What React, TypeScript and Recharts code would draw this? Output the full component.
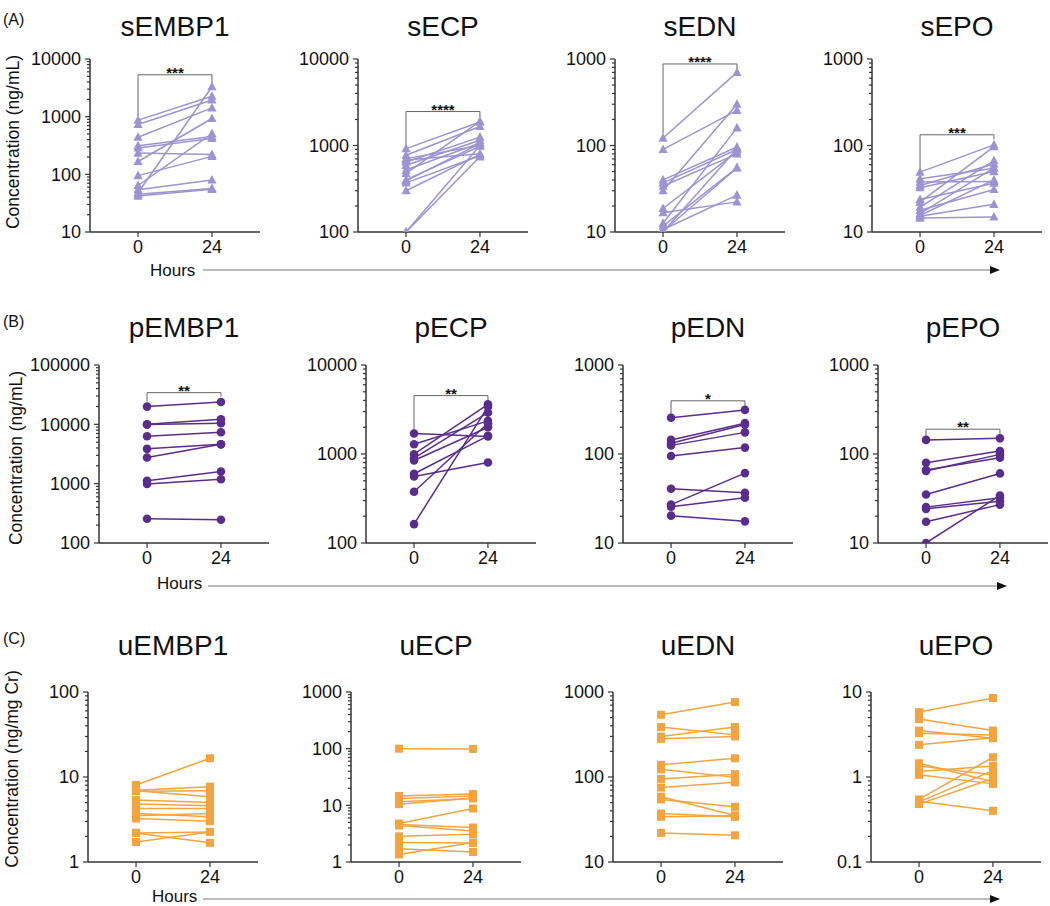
import React from "react"
import { LineChart, Line, XAxis, YAxis, ReferenceLine } from "recharts"

// paired samples, 0 h vs 24 h
const hours = [0, 24]

const sEMBP1_0 = [871, 731, 440, 314, 286, 234, 167, 95, 64, 54, 48, 45, 42]
const sEMBP1_24 = [2260, 1950, 1420, 455, 420, 220, 930, 205, 510, 80, 3300, 57, 55]
const sECP_0 = [920, 770, 705, 680, 645, 590, 520, 475, 400, 390, 370, 300, 100, 100]
const sECP_24 = [1870, 1660, 1000, 805, 1250, 1150, 1070, 1900, 980, 1050, 760, 790, 1000, 740]
const sEDN_0 = [122, 90, 40, 37, 34, 30, 18.7, 16.7, 12.6, 11.7, 10.7, 10, 10.2]
const sEDN_24 = [700, 255, 96, 90, 80, 300, 85, 22.3, 160, 55.6, 26.7, 92, 55]
const sEPO_0 = [49.2, 41.2, 37.8, 34.5, 32.5, 23.8, 22.2, 19.4, 17.8, 16.3, 15.2, 14.5, 15.5]
const sEPO_24 = [101.8, 54.7, 38.4, 61, 50, 36.7, 97, 67, 31, 55, 20.9, 14.9, 40]

const pEMBP1_0 = [19900, 10040, 9900, 6300, 3860, 2760, 1120, 985, 257]
const pEMBP1_24 = [23850, 12200, 10450, 7370, 4630, 4600, 1600, 1190, 247]
const pECP_0 = [1698, 1288, 995, 897, 845, 600, 560, 377, 163]
const pECP_24 = [1572, 2355, 3620, 2920, 2000, 1600, 803, 2217, 3410]
const pEDN_0 = [255, 144, 132, 125, 95, 40.7, 27, 25.5, 20.3]
const pEDN_24 = [313, 222, 214, 175, 118, 36.6, 61, 32.2, 17.5]
const pEPO_0 = [144, 79.8, 64.3, 66, 35.1, 25.3, 24.2, 17.3, 10]
const pEPO_24 = [150, 108, 99, 91, 60.5, 32.2, 29.5, 27, 34.2]

const uEMBP1_0 = [8.05, 7.0, 6.9, 6.8, 5.35, 4.8, 4.26, 3.72, 3.49, 3.25, 2.2, 2.2, 1.72]
const uEMBP1_24 = [16.6, 7.69, 5.86, 6.9, 5.0, 4.6, 4.26, 3.4, 3.72, 3.02, 2.26, 1.68, 2.26]
const uECP_0 = [100, 14.6, 13.2, 11.6, 10.5, 4.77, 4.4, 4.6, 2.84, 2.2, 1.72, 1.36]
const uECP_24 = [99, 15.8, 14.6, 13.2, 13.5, 8.8, 3.54, 4.06, 3.09, 2.17, 1.5, 2.2]
const uEDN_0 = [540, 387, 300, 281, 139, 123, 95, 75, 58.6, 54.5, 37.2, 34, 22]
const uEDN_24 = [762, 313, 387, 300, 166, 99, 108, 86.5, 35.3, 44.6, 34, 35, 20.6]
const uEPO_0 = [5.8, 4.8, 3.52, 3.28, 2.39, 1.45, 1.35, 1.16, 1.06, 0.545, 0.51, 0.48, 0.52]
const uEPO_24 = [8.5, 3.52, 2.86, 3.13, 2.9, 0.88, 1.06, 1.35, 0.83, 1.71, 1.19, 0.96, 0.4]

// significance brackets: [top, left leg end, right leg end], label
const brackets: Record<string, [number, number, number, string]> = {
  sEMBP1: [5320, 1023, 3600, "***"],
  sECP: [2470, 1000, 1950, "****"],
  sEDN: [876, 137, 767, "****"],
  sEPO: [133, 53, 118, "***"],
  pEMBP1: [34200, 24150, 29300, "**"],
  pECP: [4530, 1866, 3980, "**"],
  pEDN: [396, 280, 348, "*"],
  pEPO: [190, 160, 165, "**"],
}

const LAVENDER = "#9d93d3"
const PURPLE = "#5a2c8e"
const ORANGE = "#f3a43f"
const AXIS = "#333"
const FONT = "'Liberation Sans', Arial, sans-serif"

type Marker = "triangle" | "circle" | "square"

interface Panel {
  title: string
  h0: number[]
  h24: number[]
  domain: [number, number]
  color: string
  marker: Marker
  axisX: number
  top: number
  plotH: number
}

const rowA = { top: 59, plotH: 173, color: LAVENDER, marker: "triangle" as Marker }
const rowB = { top: 365, plotH: 178, color: PURPLE, marker: "circle" as Marker }
const rowC = { top: 692, plotH: 170, color: ORANGE, marker: "square" as Marker }

const panels: Panel[] = [
  { title: "sEMBP1", h0: sEMBP1_0, h24: sEMBP1_24, domain: [10, 10000], axisX: 90, ...rowA },
  { title: "sECP", h0: sECP_0, h24: sECP_24, domain: [100, 10000], axisX: 358, ...rowA },
  { title: "sEDN", h0: sEDN_0, h24: sEDN_24, domain: [10, 1000], axisX: 615, ...rowA },
  { title: "sEPO", h0: sEPO_0, h24: sEPO_24, domain: [10, 1000], axisX: 872, ...rowA },
  { title: "pEMBP1", h0: pEMBP1_0, h24: pEMBP1_24, domain: [100, 100000], axisX: 99, ...rowB },
  { title: "pECP", h0: pECP_0, h24: pECP_24, domain: [100, 10000], axisX: 366, ...rowB },
  { title: "pEDN", h0: pEDN_0, h24: pEDN_24, domain: [10, 1000], axisX: 623, ...rowB },
  { title: "pEPO", h0: pEPO_0, h24: pEPO_24, domain: [10, 1000], axisX: 878, ...rowB },
  { title: "uEMBP1", h0: uEMBP1_0, h24: uEMBP1_24, domain: [1, 100], axisX: 88, ...rowC },
  { title: "uECP", h0: uECP_0, h24: uECP_24, domain: [1, 1000], axisX: 351, ...rowC },
  { title: "uEDN", h0: uEDN_0, h24: uEDN_24, domain: [10, 1000], axisX: 613, ...rowC },
  { title: "uEPO", h0: uEPO_0, h24: uEPO_24, domain: [0.1, 10], axisX: 871, ...rowC },
]

const PLOT_W = 170
const X_DOMAIN: [number, number] = [-15.6, 39.6]
const LEFT = 75 // margin + y axis width

function isMajor(v: number) {
  const l = Math.log10(v)
  return Math.abs(l - Math.round(l)) < 1e-6
}

function logTicks([lo, hi]: [number, number]) {
  const out: number[] = []
  const e0 = Math.round(Math.log10(lo))
  const e1 = Math.round(Math.log10(hi))
  for (let e = e0; e < e1; e++) {
    for (let m = 1; m < 10; m++) out.push(m * Math.pow(10, e))
  }
  out.push(hi)
  return out
}

function fmt(v: number) {
  return v >= 1 ? String(Math.round(v)) : String(Math.round(v * 10) / 10)
}

const renderYTick = (props: any) => {
  const { x, y, payload } = props
  const v = payload.value
  const major = isMajor(v)
  return (
    <g key={`t-${v}`}>
      <line x1={x - (major ? 5 : 3)} x2={x} y1={y} y2={y} stroke={AXIS} strokeWidth={1.2} />
      {major && (
        <text x={x - 9} y={y} dy="0.36em" textAnchor="end" fontSize={18} fill="#111">
          {fmt(v)}
        </text>
      )}
    </g>
  )
}

const makeDot = (marker: Marker, color: string) => (p: any) => {
  const { cx, cy, index, dataKey } = p
  const key = `${dataKey}-${index}`
  if (cx == null || cy == null) return <g key={key} />
  if (marker === "triangle") {
    return (
      <polygon key={key} points={`${cx},${cy - 5} ${cx - 4.6},${cy + 3.6} ${cx + 4.6},${cy + 3.6}`} fill={color} />
    )
  }
  if (marker === "square") {
    return <rect key={key} x={cx - 4} y={cy - 4} width={8} height={8} fill={color} />
  }
  return <circle key={key} cx={cx} cy={cy} r={4.3} fill={color} />
}

function PanelChart({ panel }: { panel: Panel }) {
  const { h0, h24, domain, color, marker, title } = panel
  const keys = h0.map((_, j) => `s${j}`)
  const data = hours.map((h, i) => {
    const row: Record<string, number> = { hour: h }
    keys.forEach((k, j) => {
      row[k] = i === 0 ? h0[j] : h24[j]
    })
    return row
  })
  const br = brackets[title]
  const dot = makeDot(marker, color)
  return (
    <div style={{ position: "absolute", left: panel.axisX - LEFT, top: panel.top - 10 }}>
      <LineChart
        width={LEFT + PLOT_W + 5}
        height={panel.plotH + 45}
        data={data}
        margin={{ top: 10, right: 5, left: 5, bottom: 5 }}
      >
        <XAxis
          type="number"
          dataKey="hour"
          domain={X_DOMAIN}
          ticks={hours}
          allowDataOverflow
          interval={0}
          height={30}
          tickSize={5}
          tickMargin={3}
          tick={{ fontSize: 18, fill: "#111" }}
          axisLine={{ stroke: AXIS, strokeWidth: 1.5 }}
          tickLine={{ stroke: AXIS, strokeWidth: 1.2 }}
        />
        <YAxis
          scale="log"
          domain={domain}
          ticks={logTicks(domain)}
          allowDataOverflow
          interval={0}
          width={70}
          tickSize={0}
          tickMargin={0}
          tickLine={false}
          axisLine={{ stroke: AXIS, strokeWidth: 1.5 }}
          tick={renderYTick}
        />
        {keys.map((k) => (
          <Line
            key={k}
            dataKey={k}
            stroke={color}
            strokeWidth={1.5}
            dot={dot}
            activeDot={false}
            isAnimationActive={false}
          />
        ))}
        {br && (
          <ReferenceLine
            segment={[{ x: 0, y: br[1] }, { x: 0, y: br[0] }]}
            stroke="#666"
            strokeWidth={1}
          />
        )}
        {br && (
          <ReferenceLine
            segment={[{ x: 24, y: br[2] }, { x: 24, y: br[0] }]}
            stroke="#666"
            strokeWidth={1}
          />
        )}
        {br && (
          <ReferenceLine
            segment={[{ x: 0, y: br[0] }, { x: 24, y: br[0] }]}
            stroke="#666"
            strokeWidth={1}
            label={{ value: br[3], position: "top", offset: -3, fontSize: 15, fontWeight: 700, fill: "#111" }}
          />
        )}
      </LineChart>
    </div>
  )
}

const sections = [
  { label: "(A)", y: 25 },
  { label: "(B)", y: 327 },
  { label: "(C)", y: 644 },
]
const titleBaselines = [36, 337, 655]
const yTitles = [
  { text: "Concentration (ng/mL)", x: 13, y: 142 },
  { text: "Concentration (ng/mL)", x: 16, y: 458 },
  { text: "Concentration (ng/mg Cr)", x: 12, y: 769 },
]
const arrows = [
  { tx: 150, ty: 276, x1: 203, x2: 1000, y: 270 },
  { tx: 157, ty: 589, x1: 208, x2: 1007, y: 586 },
  { tx: 152, ty: 902, x1: 203, x2: 1000, y: 899 },
]

export default function App() {
  return (
    <div
      style={{
        position: "absolute",
        left: 0,
        top: 0,
        width: 1050,
        height: 906,
        background: "#fff",
        fontFamily: FONT,
        overflow: "hidden",
      }}
    >
      {panels.map((p) => (
        <PanelChart key={p.title} panel={p} />
      ))}
      <svg
        width={1050}
        height={906}
        style={{ position: "absolute", left: 0, top: 0, pointerEvents: "none", fontFamily: FONT }}
      >
        {sections.map((s) => (
          <text key={s.label} x={3} y={s.y} fontSize={16} fill="#111">
            {s.label}
          </text>
        ))}
        {panels.map((p, i) => (
          <text
            key={p.title}
            x={p.axisX + 85}
            y={titleBaselines[Math.floor(i / 4)]}
            textAnchor="middle"
            fontSize={28}
            fill="#111"
          >
            {p.title}
          </text>
        ))}
        {yTitles.map((t, i) => (
          <text
            key={i}
            x={t.x}
            y={t.y}
            transform={`rotate(-90 ${t.x} ${t.y})`}
            textAnchor="middle"
            dominantBaseline="central"
            fontSize={17.5}
            fill="#111"
          >
            {t.text}
          </text>
        ))}
        {arrows.map((a, i) => (
          <g key={i}>
            <text x={a.tx} y={a.ty} fontSize={17} fill="#111">
              Hours
            </text>
            <line x1={a.x1} x2={a.x2 - 8} y1={a.y} y2={a.y} stroke="#777" strokeWidth={1.2} />
            <polygon points={`${a.x2},${a.y} ${a.x2 - 10},${a.y - 4} ${a.x2 - 10},${a.y + 4}`} fill="#111" />
          </g>
        ))}
      </svg>
    </div>
  )
}
